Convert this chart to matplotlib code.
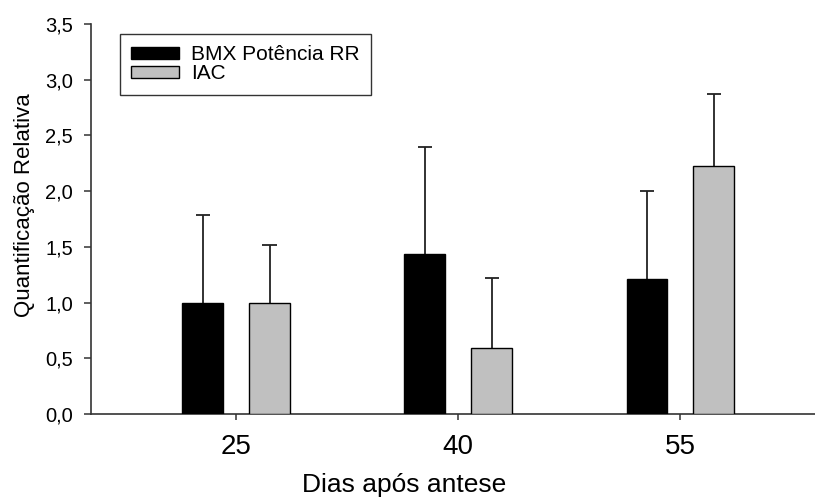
import matplotlib.pyplot as plt
import matplotlib.patches as mpatches
import numpy as np

plt.rcParams['font.family'] = ['Liberation Sans', 'DejaVu Sans']

# Data
dias = [25, 40, 55]
series_names = ['BMX Potência RR', 'IAC']
bmx_media = [1.00, 1.44, 1.21]
bmx_erro = [0.79, 0.96, 0.79]
iac_media = [1.00, 0.59, 2.23]
iac_erro = [0.52, 0.63, 0.64]
yticks = [0.0, 0.5, 1.0, 1.5, 2.0, 2.5, 3.0, 3.5]

fig = plt.figure(figsize=(8.15, 5.0), dpi=100)
ax = fig.add_axes([91 / 815, 1 - 414 / 500, 1 - 91 / 815, 390 / 500])

offset = 2.26
width = 2.74
cap = 0.48
x = np.array(dias, dtype=float)

ax.bar(x - offset, bmx_media, width, color='black', edgecolor='black', linewidth=1, zorder=3)
ax.bar(x + offset, iac_media, width, color='#c0c0c0', edgecolor='black', linewidth=1, zorder=3)

# only upper error bars, cap only at the top
for xs, m, e in [(x - offset, bmx_media, bmx_erro), (x + offset, iac_media, iac_erro)]:
    top = np.array(m) + np.array(e)
    ax.vlines(xs, m, top, color='#222222', linewidth=1.3, zorder=2)
    ax.hlines(top, xs - cap, xs + cap, color='#222222', linewidth=1.3, zorder=2)

ax.set_xlim(15.2, 64.1)
ax.set_ylim(0, 3.5)
ax.set_xticks(dias)
ax.set_xticklabels([str(d) for d in dias], fontsize=20)
ax.set_yticks(yticks)
ax.set_yticklabels([f'{v:.1f}'.replace('.', ',') for v in yticks], fontsize=14.5)

for s in ['top', 'right']:
    ax.spines[s].set_visible(False)
for s in ['left', 'bottom']:
    ax.spines[s].set_color('#333333')
    ax.spines[s].set_linewidth(1.2)
ax.tick_params(axis='y', direction='out', length=5, width=1.1, color='#333333', pad=8)
ax.tick_params(axis='x', direction='out', length=4.5, width=1.1, color='#333333', pad=10)

ax.set_xlabel('Dias após antese', fontsize=19)
ax.xaxis.set_label_coords(0.433, -0.152)
ax.set_ylabel('Quantificação Relativa', fontsize=16)
ax.yaxis.set_label_coords(-0.078, 0.536)

handles = [mpatches.Patch(facecolor='black', edgecolor='black', linewidth=1),
           mpatches.Patch(facecolor='#c0c0c0', edgecolor='black', linewidth=1)]
leg = ax.legend(handles, series_names, loc='upper left',
                bbox_to_anchor=(120 / 815, 1 - 34 / 500), bbox_transform=fig.transFigure,
                fontsize=15, frameon=True, fancybox=False, borderaxespad=0,
                handlelength=2.3, handleheight=0.55, handletextpad=0.55,
                labelspacing=0.0, borderpad=0.55)
leg.get_frame().set_edgecolor('black')
leg.get_frame().set_linewidth(1.0)

fig.savefig('out.png', dpi=100)
